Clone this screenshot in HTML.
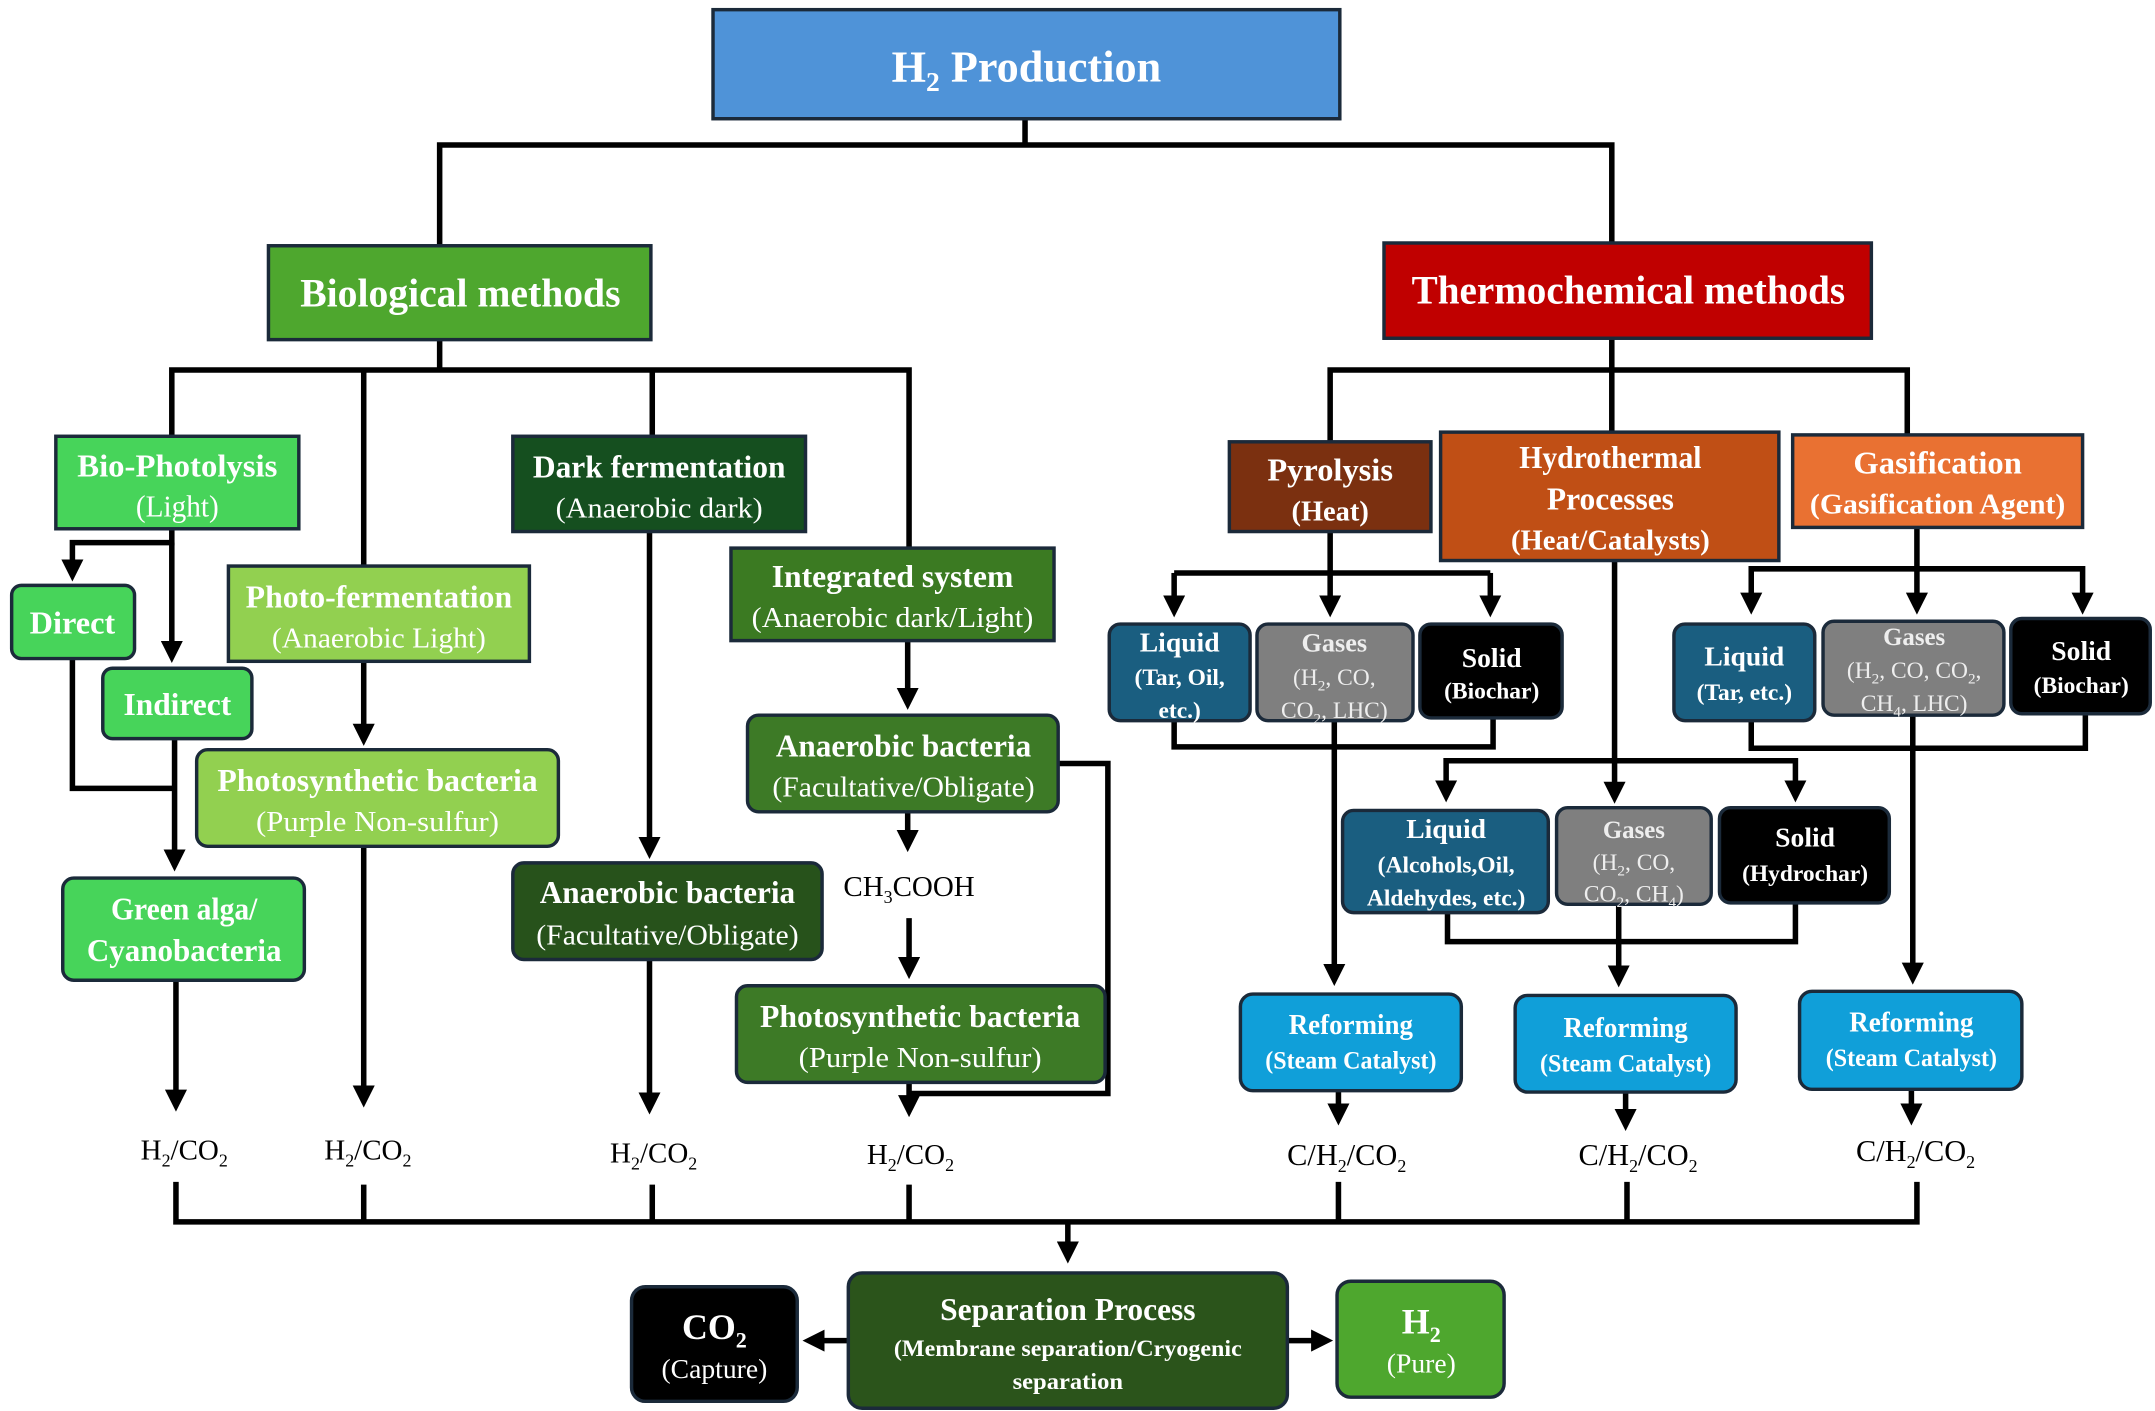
<!DOCTYPE html>
<html><head><meta charset="utf-8"><style>
html,body{margin:0;padding:0;background:#fff;}
svg{display:block;}
text{font-family:"Liberation Serif",serif;text-anchor:middle;}
.w{fill:#fff;}
.b{font-weight:bold;}
</style></head><body>
<svg width="2155" height="1411" viewBox="0 0 1560 1022" xmlns="http://www.w3.org/2000/svg">
<defs>
<marker id="ar" markerWidth="4" markerHeight="4" refX="2.2" refY="2" orient="auto" markerUnits="strokeWidth">
<path d="M0,0 L4,2 L0,4 z" fill="#000"/></marker>
</defs>
<rect width="1560" height="1022" fill="#fff"/>
<g stroke="#000" stroke-width="4" fill="none" stroke-linejoin="miter">
<path d="M742 86 V105 M318 178 V105 H1167 V176"/>
<path d="M318 246 V268 M124 316 V268 H658 V396 M263 268 V410 M472 268 V316"/>
<path d="M124 383 V393 H52 V414" marker-end="url(#ar)"/>
<path d="M124 393 V473" marker-end="url(#ar)"/>
<path d="M52 477 V571 H124 M126 535 V624" marker-end="url(#ar)"/>
<path d="M127 710 V798" marker-end="url(#ar)"/>
<path d="M263 479 V533" marker-end="url(#ar)"/>
<path d="M263 613 V795" marker-end="url(#ar)"/>
<path d="M470 385 V615" marker-end="url(#ar)"/>
<path d="M470 695 V800" marker-end="url(#ar)"/>
<path d="M657 464 V507" marker-end="url(#ar)"/>
<path d="M657 588 V610" marker-end="url(#ar)"/>
<path d="M658 665 V702" marker-end="url(#ar)"/>
<path d="M766 553 H802 V792 H658"/>
<path d="M658 784 V802" marker-end="url(#ar)"/>
<path d="M1167 245 V268 M963 320 V268 H1381 V316 M1167 268 V313"/>
<path d="M963 385 V415 M850 415 H1079"/>
<path d="M850 415 V440" marker-end="url(#ar)"/>
<path d="M963 415 V440" marker-end="url(#ar)"/>
<path d="M1079 415 V440" marker-end="url(#ar)"/>
<path d="M850 522 V541 H1081 V520"/>
<path d="M966 522 V707" marker-end="url(#ar)"/>
<path d="M1169 406 V575" marker-end="url(#ar)"/>
<path d="M1169 551 H1047 V574" marker-end="url(#ar)"/>
<path d="M1169 551 H1300 V574" marker-end="url(#ar)"/>
<path d="M1048 661 V682 H1300 V654"/>
<path d="M1172 655 V708" marker-end="url(#ar)"/>
<path d="M1388 382 V412 H1268 V438" marker-end="url(#ar)"/>
<path d="M1388 412 V438" marker-end="url(#ar)"/>
<path d="M1388 412 H1508 V438" marker-end="url(#ar)"/>
<path d="M1268 522 V542 H1510 V517"/>
<path d="M1385 518 V706" marker-end="url(#ar)"/>
<path d="M969 790 V808" marker-end="url(#ar)"/>
<path d="M1177 791 V812" marker-end="url(#ar)"/>
<path d="M1384 789 V808" marker-end="url(#ar)"/>
<path d="M127 856 V885 H1388 V856 M263 858 V885 M472 858 V885 M658 858 V885 M969 856 V885 M1178 856 V885"/>
<path d="M773 885 V908" marker-end="url(#ar)"/>
<path d="M614 971 H588" marker-end="url(#ar)"/>
<path d="M932 971 H958" marker-end="url(#ar)"/>
</g>
<g stroke="#1b2a3a" stroke-width="2.5">
<rect x="516" y="7" width="454" height="79" fill="#4f93d8"/>
<rect x="194" y="178" width="277" height="68" fill="#4ea72e"/>
<rect x="1002" y="176" width="353" height="69" fill="#c00000"/>
<rect x="40" y="316" width="176" height="67" fill="#47d45a"/>
<rect x="8" y="424" width="89" height="53" rx="7" fill="#47d45a"/>
<rect x="74" y="484" width="108" height="51" rx="7" fill="#47d45a"/>
<rect x="45" y="636" width="175" height="74" rx="8" fill="#47d45a"/>
<rect x="165" y="410" width="218" height="69" fill="#92d050"/>
<rect x="142" y="543" width="262" height="70" rx="8" fill="#92d050"/>
<rect x="371" y="316" width="212" height="69" fill="#154f1f"/>
<rect x="371" y="625" width="224" height="70" rx="8" fill="#27521b"/>
<rect x="529" y="397" width="234" height="67" fill="#3b7a22"/>
<rect x="541" y="518" width="225" height="70" rx="8" fill="#3d7a26"/>
<rect x="533" y="714" width="267" height="70" rx="8" fill="#3d7a26"/>
<rect x="890" y="320" width="146" height="65" fill="#7b3010"/>
<rect x="1043" y="313" width="245" height="93" fill="#c04f15"/>
<rect x="1298" y="315" width="210" height="67" fill="#e97132"/>
<rect x="803" y="452" width="102" height="70" rx="8" fill="#1a5e80"/>
<rect x="910" y="452" width="113" height="70" rx="8" fill="#7f7f7f"/>
<rect x="1028" y="452" width="103" height="68" rx="8" fill="#000"/>
<rect x="972" y="587" width="149" height="74" rx="8" fill="#1a5e80"/>
<rect x="1127" y="585" width="112" height="70" rx="8" fill="#7f7f7f"/>
<rect x="1245" y="585" width="123" height="69" rx="8" fill="#000"/>
<rect x="1212" y="452" width="102" height="70" rx="8" fill="#1a5e80"/>
<rect x="1320" y="450" width="131" height="68" rx="8" fill="#7f7f7f"/>
<rect x="1456" y="448" width="101" height="69" rx="8" fill="#000"/>
<rect x="898" y="720" width="160" height="70" rx="9" fill="#109fd9"/>
<rect x="1097" y="721" width="160" height="70" rx="9" fill="#109fd9"/>
<rect x="1303" y="718" width="161" height="71" rx="9" fill="#109fd9"/>
<rect x="614" y="922" width="318" height="98" rx="10" fill="#2b541b"/>
<rect x="457" y="932" width="120" height="83" rx="10" fill="#000"/>
<rect x="968" y="928" width="121" height="84" rx="10" fill="#4ea72e"/>
</g>
<g class="w">
<text x="743" y="59" font-size="32" class="b">H<tspan font-size="20" dy="7">2</tspan><tspan dy="-7"> Production</tspan></text>
<text x="333" y="222" font-size="29" class="b" textLength="232" lengthAdjust="spacingAndGlyphs">Biological methods</text>
<text x="1179" y="220" font-size="29" class="b" textLength="314" lengthAdjust="spacingAndGlyphs">Thermochemical methods</text>
<text x="128" y="345" font-size="23" class="b" textLength="145" lengthAdjust="spacingAndGlyphs">Bio-Photolysis</text>
<text x="128" y="374" font-size="22" textLength="60" lengthAdjust="spacingAndGlyphs">(Light)</text>
<text x="52" y="459" font-size="23" class="b" textLength="62" lengthAdjust="spacingAndGlyphs">Direct</text>
<text x="128" y="518" font-size="23" class="b" textLength="78" lengthAdjust="spacingAndGlyphs">Indirect</text>
<text x="133" y="666" font-size="23" class="b" textLength="106" lengthAdjust="spacingAndGlyphs">Green alga/</text>
<text x="133" y="696" font-size="23" class="b" textLength="141" lengthAdjust="spacingAndGlyphs">Cyanobacteria</text>
<text x="274" y="440" font-size="23" class="b" textLength="193" lengthAdjust="spacingAndGlyphs">Photo-fermentation</text>
<text x="274" y="469" font-size="21" textLength="155" lengthAdjust="spacingAndGlyphs">(Anaerobic Light)</text>
<text x="273" y="573" font-size="23" class="b" textLength="232" lengthAdjust="spacingAndGlyphs">Photosynthetic bacteria</text>
<text x="273" y="602" font-size="21" textLength="176" lengthAdjust="spacingAndGlyphs">(Purple Non-sulfur)</text>
<text x="477" y="346" font-size="23" class="b" textLength="183" lengthAdjust="spacingAndGlyphs">Dark fermentation</text>
<text x="477" y="375" font-size="21" textLength="150" lengthAdjust="spacingAndGlyphs">(Anaerobic dark)</text>
<text x="483" y="654" font-size="23" class="b" textLength="185" lengthAdjust="spacingAndGlyphs">Anaerobic bacteria</text>
<text x="483" y="684" font-size="21" textLength="190" lengthAdjust="spacingAndGlyphs">(Facultative/Obligate)</text>
<text x="646" y="425" font-size="23" class="b" textLength="175" lengthAdjust="spacingAndGlyphs">Integrated system</text>
<text x="646" y="454" font-size="21" textLength="204" lengthAdjust="spacingAndGlyphs">(Anaerobic dark/Light)</text>
<text x="654" y="548" font-size="23" class="b" textLength="185" lengthAdjust="spacingAndGlyphs">Anaerobic bacteria</text>
<text x="654" y="577" font-size="21" textLength="190" lengthAdjust="spacingAndGlyphs">(Facultative/Obligate)</text>
<text x="666" y="744" font-size="23" class="b" textLength="232" lengthAdjust="spacingAndGlyphs">Photosynthetic bacteria</text>
<text x="666" y="773" font-size="21" textLength="176" lengthAdjust="spacingAndGlyphs">(Purple Non-sulfur)</text>
<text x="963" y="348" font-size="23" class="b" textLength="91" lengthAdjust="spacingAndGlyphs">Pyrolysis</text>
<text x="963" y="377" font-size="21" class="b" textLength="56" lengthAdjust="spacingAndGlyphs">(Heat)</text>
<text x="1166" y="339" font-size="23" class="b" textLength="132" lengthAdjust="spacingAndGlyphs">Hydrothermal</text>
<text x="1166" y="369" font-size="23" class="b" textLength="92" lengthAdjust="spacingAndGlyphs">Processes</text>
<text x="1166" y="398" font-size="21" class="b" textLength="144" lengthAdjust="spacingAndGlyphs">(Heat/Catalysts)</text>
<text x="1403" y="343" font-size="23" class="b" textLength="122" lengthAdjust="spacingAndGlyphs">Gasification</text>
<text x="1403" y="372" font-size="21" class="b" textLength="185" lengthAdjust="spacingAndGlyphs">(Gasification Agent)</text>
<g font-size="17" class="b">
<text x="854" y="472" font-size="20">Liquid</text>
<text x="854" y="496">(Tar, Oil,</text>
<text x="854" y="520">etc.)</text>
<text x="966" y="472" font-size="19" fill="#eee">Gases</text>
<text x="966" y="496" fill="#eee" font-weight="normal">(H<tspan font-size="11" dy="4">2</tspan><tspan dy="-4">, CO,</tspan></text>
<text x="966" y="520" fill="#eee" font-weight="normal">CO<tspan font-size="11" dy="4">2</tspan><tspan dy="-4">, LHC)</tspan></text>
<text x="1080" y="483" font-size="20">Solid</text>
<text x="1080" y="506">(Biochar)</text>
<text x="1047" y="607" font-size="20">Liquid</text>
<text x="1047" y="632">(Alcohols,Oil,</text>
<text x="1047" y="656">Aldehydes, etc.)</text>
<text x="1183" y="607" font-size="18" fill="#eee">Gases</text>
<text x="1183" y="630" fill="#eee" font-weight="normal">(H<tspan font-size="11" dy="4">2</tspan><tspan dy="-4">, CO,</tspan></text>
<text x="1183" y="653" fill="#eee" font-weight="normal">CO<tspan font-size="11" dy="4">2</tspan><tspan dy="-4">, CH</tspan><tspan font-size="11" dy="4">4</tspan><tspan dy="-4">)</tspan></text>
<text x="1307" y="613" font-size="20">Solid</text>
<text x="1307" y="638">(Hydrochar)</text>
<text x="1263" y="482" font-size="20">Liquid</text>
<text x="1263" y="507">(Tar, etc.)</text>
<text x="1386" y="467" font-size="18" fill="#eee">Gases</text>
<text x="1386" y="491" fill="#eee" font-weight="normal">(H<tspan font-size="11" dy="4">2</tspan><tspan dy="-4">, CO, CO</tspan><tspan font-size="11" dy="4">2</tspan><tspan dy="-4">,</tspan></text>
<text x="1386" y="515" fill="#eee" font-weight="normal">CH<tspan font-size="11" dy="4">4</tspan><tspan dy="-4">, LHC)</tspan></text>
<text x="1507" y="478" font-size="20">Solid</text>
<text x="1507" y="502">(Biochar)</text>
</g>
<g class="b">
<text x="978" y="749" font-size="21" textLength="90" lengthAdjust="spacingAndGlyphs">Reforming</text>
<text x="978" y="774" font-size="18" textLength="124" lengthAdjust="spacingAndGlyphs">(Steam Catalyst)</text>
<text x="1177" y="751" font-size="21" textLength="90" lengthAdjust="spacingAndGlyphs">Reforming</text>
<text x="1177" y="776" font-size="18" textLength="124" lengthAdjust="spacingAndGlyphs">(Steam Catalyst)</text>
<text x="1384" y="747" font-size="21" textLength="90" lengthAdjust="spacingAndGlyphs">Reforming</text>
<text x="1384" y="772" font-size="18" textLength="124" lengthAdjust="spacingAndGlyphs">(Steam Catalyst)</text>
</g>
<text x="773" y="956" font-size="23" class="b" textLength="185" lengthAdjust="spacingAndGlyphs">Separation Process</text>
<text x="773" y="982" font-size="17" class="b" textLength="252" lengthAdjust="spacingAndGlyphs">(Membrane separation/Cryogenic</text>
<text x="773" y="1006" font-size="17" class="b" textLength="80" lengthAdjust="spacingAndGlyphs">separation</text>
<text x="517" y="970" font-size="26" class="b">CO<tspan font-size="16" dy="6">2</tspan></text>
<text x="517" y="998" font-size="20">(Capture)</text>
<text x="1029" y="966" font-size="26" class="b">H<tspan font-size="16" dy="6">2</tspan></text>
<text x="1029" y="994" font-size="20">(Pure)</text>
</g>
<g fill="#000" font-size="21">
<text x="658" y="649">CH<tspan font-size="13" dy="5">3</tspan><tspan dy="-5">COOH</tspan></text>
<text x="133" y="840">H<tspan font-size="13" dy="5">2</tspan><tspan dy="-5">/CO</tspan><tspan font-size="13" dy="5">2</tspan></text>
<text x="266" y="840">H<tspan font-size="13" dy="5">2</tspan><tspan dy="-5">/CO</tspan><tspan font-size="13" dy="5">2</tspan></text>
<text x="473" y="842">H<tspan font-size="13" dy="5">2</tspan><tspan dy="-5">/CO</tspan><tspan font-size="13" dy="5">2</tspan></text>
<text x="659" y="843">H<tspan font-size="13" dy="5">2</tspan><tspan dy="-5">/CO</tspan><tspan font-size="13" dy="5">2</tspan></text>
<text x="975" y="844" font-size="22">C/H<tspan font-size="13" dy="5">2</tspan><tspan dy="-5">/CO</tspan><tspan font-size="13" dy="5">2</tspan></text>
<text x="1186" y="844" font-size="22">C/H<tspan font-size="13" dy="5">2</tspan><tspan dy="-5">/CO</tspan><tspan font-size="13" dy="5">2</tspan></text>
<text x="1387" y="841" font-size="22">C/H<tspan font-size="13" dy="5">2</tspan><tspan dy="-5">/CO</tspan><tspan font-size="13" dy="5">2</tspan></text>
</g>
</svg>
</body></html>
